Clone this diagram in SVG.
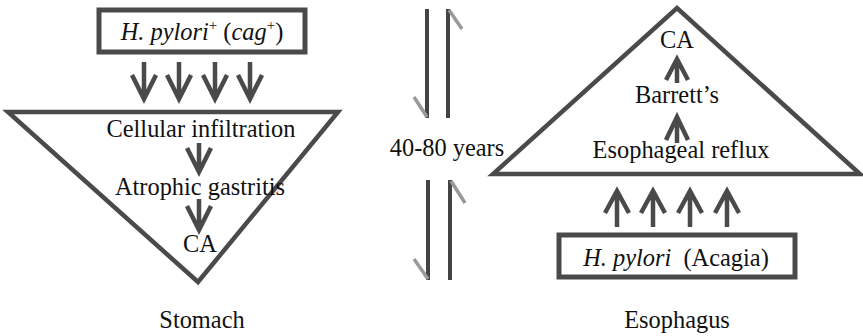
<svg xmlns="http://www.w3.org/2000/svg" width="863" height="336" viewBox="0 0 863 336">
<style>
.box{fill:#fff;stroke:#4a4a4a;stroke-width:5}
.tri{fill:#fff;stroke:#4a4a4a;stroke-width:4.5;stroke-linejoin:miter}
.arr{fill:none;stroke:#4a4a4a;stroke-width:4.5;stroke-linecap:butt;stroke-linejoin:miter}
.bar{stroke:#444;stroke-width:4}
.hook{stroke:#999;stroke-width:3.5}
</style>
<rect width="863" height="336" fill="#fff"/>

<g font-family="'Liberation Serif', 'DejaVu Serif', serif" font-size="24.4" fill="#111" text-anchor="middle">
<g id="stomach-triangle">
<polygon class="tri" points="8,112 338,112 198,282"/>
</g>
<g id="hp-cag-box">
<rect class="box" x="99" y="10" width="206" height="42"/>
<text x="202" y="40"><tspan font-style="italic">H. pylori</tspan><tspan font-size="15" dy="-10">+</tspan><tspan dy="10"> (</tspan><tspan font-style="italic">cag</tspan><tspan font-size="15" dy="-10">+</tspan><tspan dy="10">)</tspan></text>
</g>
<g id="cellular-infiltration"><text x="201" y="137">Cellular infiltration</text></g>
<g id="atrophic-gastritis"><text x="200" y="195">Atrophic gastritis</text></g>
<g id="ca-stomach"><text x="200" y="252">CA</text></g>
<g id="stomach-label"><text x="202" y="328">Stomach</text></g>

<g id="esophagus-triangle">
<polygon class="tri" points="493,174 860,174 677,8"/>
</g>
<g id="ca-esophagus"><text x="677" y="48">CA</text></g>
<g id="barretts"><text x="677" y="103">Barrett’s</text></g>
<g id="esophageal-reflux"><text x="681" y="158">Esophageal reflux</text></g>
<g id="hp-acagia-box">
<rect class="box" x="559" y="235" width="236" height="42"/>
<text x="676" y="266" xml:space="preserve"><tspan font-style="italic">H. pylori</tspan>  (Acagia)</text>
</g>
<g id="esophagus-label"><text x="677" y="328">Esophagus</text></g>

<g id="years"><text x="447" y="156">40-80 years</text></g>
</g>

<g id="connectors">
<path class="arr" d="M144,62V99M132,75L144,99L156,75"/>
<path class="arr" d="M179,62V99M167,75L179,99L191,75"/>
<path class="arr" d="M215,62V99M203,75L215,99L227,75"/>
<path class="arr" d="M250,62V99M238,75L250,99L262,75"/>
<path class="arr" d="M199,143V172M187,148L199,172L211,148"/>
<path class="arr" d="M199,199V230M187,206L199,230L211,206"/>
<path class="arr" d="M617,227V191M605,213L617,191L629,213"/>
<path class="arr" d="M653,227V191M641,213L653,191L665,213"/>
<path class="arr" d="M690,227V191M678,213L690,191L702,213"/>
<path class="arr" d="M727,227V191M715,213L727,191L739,213"/>
<path class="arr" d="M677,83V59M666,80L677,59L688,80"/>
<path class="arr" d="M677,143V117M666,140L677,117L688,140"/>
<line class="bar" x1="427" y1="9" x2="427" y2="118"/>
<line class="hook" x1="414" y1="97" x2="427" y2="117"/>
<line class="bar" x1="448" y1="9" x2="448" y2="118"/>
<line class="hook" x1="449" y1="10" x2="462" y2="29"/>
<line class="bar" x1="428" y1="180" x2="428" y2="280"/>
<line class="hook" x1="414" y1="259" x2="428" y2="279"/>
<line class="bar" x1="450" y1="180" x2="450" y2="280"/>
<line class="hook" x1="451" y1="181" x2="465" y2="203"/>
</g>
</svg>
